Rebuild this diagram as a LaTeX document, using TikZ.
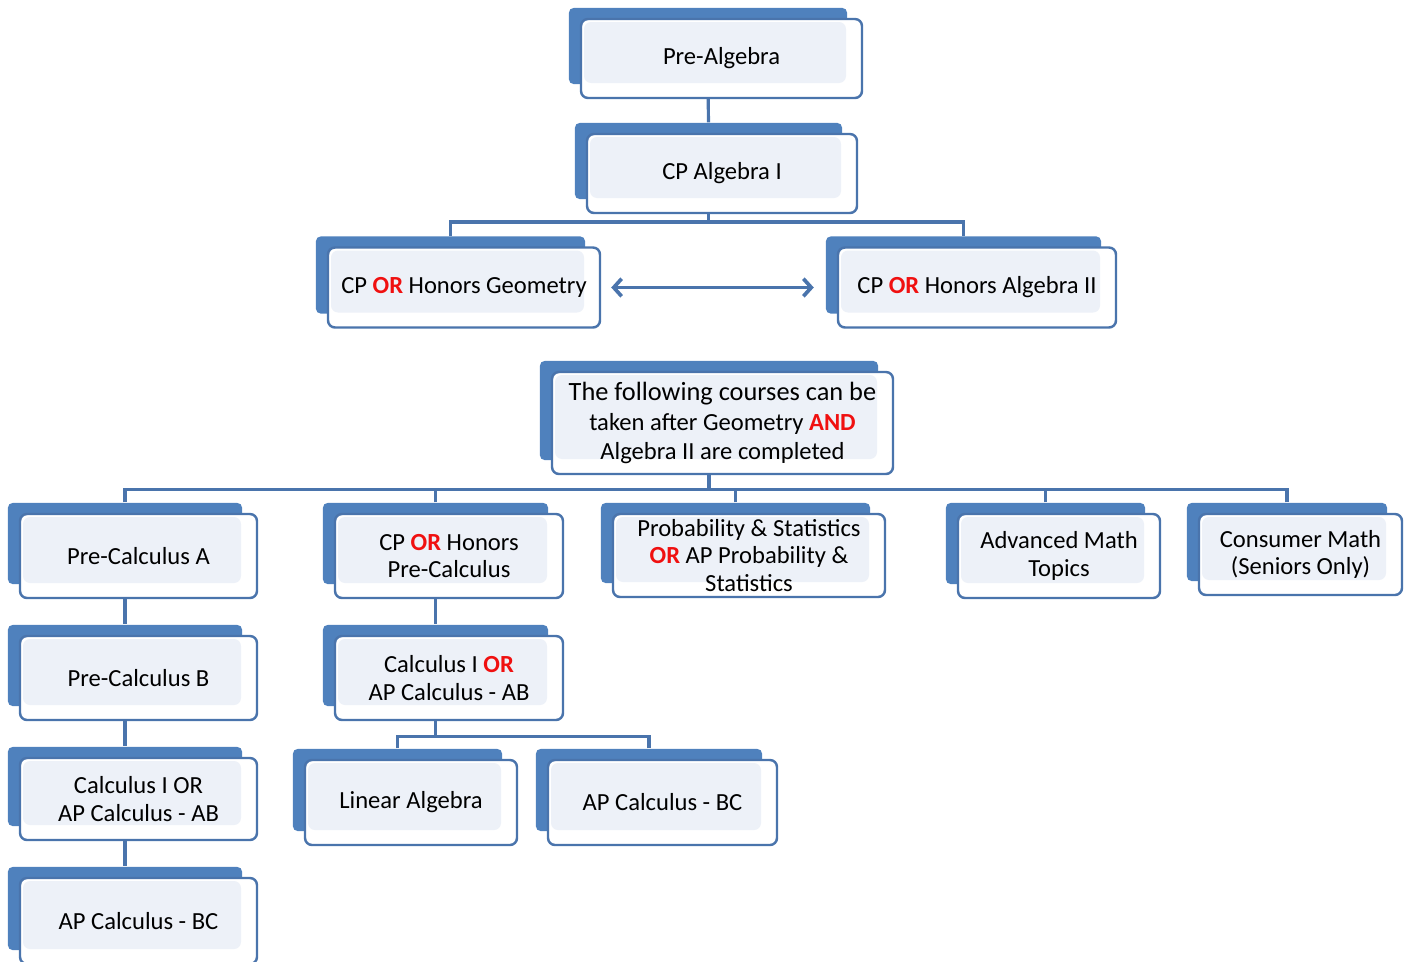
\documentclass[tikz,border=0pt]{standalone}
\usepackage{fontspec}
\setmainfont{Carlito}
\usetikzlibrary{calc,fit,backgrounds,arrows.meta}
\definecolor{boxblue}{HTML}{4F81BD}
\definecolor{edgeblue}{HTML}{4A74AC}
\definecolor{innerfill}{HTML}{EDF1F8}
\definecolor{orred}{HTML}{F01010}
\tikzset{
	coursebox/.style={draw=edgeblue, line width=1.4pt, fill=white, rounded corners=4pt,
		align=center, font=\fontsize{14}{15.5}\selectfont, inner sep=0pt,
		path picture={\fill[innerfill] ($(path picture bounding box.north west)+(3,3)$) rectangle ($(path picture bounding box.south east)+(-16,-15)$);}},
	backbox/.style={fill=boxblue, rounded corners=3pt, inner sep=0pt},
	link/.style={draw=edgeblue, line width=1.8pt}
}
\newcommand{\OR}{\textcolor{orred}{\textbf{OR}}}
% name, centre, width, height, text
\newcommand{\course}[5]{
	\node[coursebox, minimum width=#3*0.02cm, minimum height=#4*0.02cm] (#1) at (#2) {#5};
	\begin{scope}[on background layer]
		\node[backbox, fit={($(#1.north west)+(-11,-10)$) ($(#1.south east)+(-16,-15)$)}] (#1-b) {};
	\end{scope}
}
\begin{document}
\begin{tikzpicture}[x=0.02cm, y=-0.02cm]
	\useasboundingbox (0,0) rectangle (1411,961);

	\course{pre}{721.5,58.5}{281}{79}{Pre-Algebra}
	\course{algone}{722,173.5}{270}{79}{CP Algebra I}
	\course{geom}{464,287.5}{272}{80}{CP \OR{} Honors Geometry}
	\course{algtwo}{977,287.5}{278}{80}{CP \OR{} Honors Algebra II}
	\course{after}{722.5,423}{341}{102}{\fontsize{15}{17.5}\selectfont The following courses can be\\[1.5pt] taken after Geometry \textcolor{orred}{\textbf{AND}}\\[1.5pt] Algebra II are completed}

	\course{pcA}{138.5,556}{237}{84}{Pre-Calculus A}
	\course{honpc}{449,556}{228}{84}{CP \OR{} Honors\\ Pre-Calculus}
	\course{prob}{749,555.5}{272}{83}{Probability \& Statistics\\ \OR{} AP Probability \&\\ Statistics}
	\course{adv}{1059,556}{202}{84}{Advanced Math\\ Topics}
	\course{cons}{1300.5,554.5}{203}{81}{Consumer Math\\ (Seniors Only)}

	\course{pcB}{138.5,678}{237}{84}{Pre-Calculus B}
	\course{calcr}{449,678}{228}{84}{Calculus I \OR\\ AP Calculus - AB}
	\course{calcl}{138.5,799}{237}{82}{Calculus I OR\\ AP Calculus - AB}
	\course{bcl}{138.5,921}{237}{86}{AP Calculus - BC}
	\course{lin}{411,802.5}{212}{85}{Linear Algebra}
	\course{bcr}{662.5,802.5}{229}{85}{AP Calculus - BC}

	\begin{scope}[on background layer]
		\draw[link] (pre-b.south) -- (algone-b.north);
		\draw[link] (geom-b.north) -- ++(0,-14) -| (algone-b.south);
		\draw[link] (algtwo-b.north) -- ++(0,-14) -| (algone-b.south);

		\foreach \c in {pcA,honpc,prob,adv,cons}
			\draw[link] (\c-b.north) -- ++(0,-13) -| (after-b.south);

		\draw[link] (pcA-b.south) -- (pcB-b.north);
		\draw[link] (pcB-b.south) -- (calcl-b.north);
		\draw[link] (calcl-b.south) -- (bcl-b.north);
		\draw[link] (honpc-b.south) -- (calcr-b.north);
		\draw[link] (lin-b.north) -- ++(0,-12) -| (calcr-b.south);
		\draw[link] (bcr-b.north) -- ++(0,-12) -| (calcr-b.south);
	\end{scope}

	\draw[link, line width=2.1pt, {Straight Barb[length=4.5pt,width=10pt]}-{Straight Barb[length=4.5pt,width=10pt]}, shorten <=10*0.02cm, shorten >=23*0.02cm] (geom.east) -- (algtwo.west);

\end{tikzpicture}
\end{document}
